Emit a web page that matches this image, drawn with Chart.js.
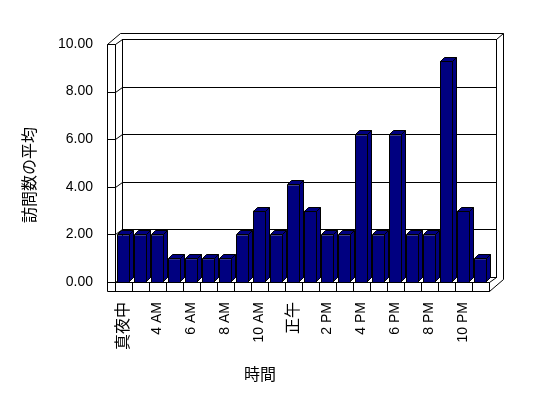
<!DOCTYPE html>
<html>
<head>
<meta charset="utf-8">
<script src="https://cdn.jsdelivr.net/npm/chart.js@4.4.1/dist/chart.umd.min.js"></script>
<style>
  body { margin: 0; background: #ffffff; }
</style>
</head>
<body>
<canvas id="visitsChart" width="548" height="398"></canvas>
<script>
// hours (every other label is shown, like the original)
var hours = ['真夜中', '1 AM', '4 AM', '5 AM', '6 AM', '7 AM', '8 AM', '9 AM', '10 AM', '11 AM', '正午',
    '1 PM', '2 PM', '3 PM', '4 PM', '5 PM', '6 PM', '7 PM', '8 PM', '9 PM', '10 PM', '11 PM'];
var avgVisits = [2, 2, 2, 1, 1, 1, 1, 2, 3, 2, 4.1, 3, 2, 2, 6.2, 2, 6.2, 2, 2, 9.3, 3, 1];
var yTicks = [0, 2, 4, 6, 8, 10];

var xTitle = '時間';
var yTitle = '訪問数の平均';

const barColor = '#000080';

// walls, floor and back gridlines of the 3d box
const box3d = {
    id: 'box3d',
    beforeDatasetsDraw(chart) {
        var ctx = chart.ctx;
        var a = chart.chartArea;
        var y = chart.scales.y;
        var L = a.left, R = a.right, T = a.top, B = a.bottom;
        ctx.save();
        ctx.strokeStyle = '#000';
        ctx.lineWidth = 1;
        ctx.translate(0.5, 0.5);
        function line(x1, y1, x2, y2) {
            ctx.beginPath();
            ctx.moveTo(Math.round(x1), Math.round(y1));
            ctx.lineTo(Math.round(x2), Math.round(y2));
            ctx.stroke();
        }
        // outer outline
        ctx.beginPath();
        ctx.moveTo(L - 8, B + 9);
        ctx.lineTo(L - 8, T);
        ctx.lineTo(L + 5, T - 11);
        ctx.lineTo(R + 14, T - 11);
        ctx.lineTo(R + 14, B - 3);
        ctx.lineTo(R, B + 9);
        ctx.closePath();
        ctx.stroke();
        // back wall
        ctx.strokeRect(L + 7, T - 5, R - L, B - T);
        line(L, T, L + 7, T - 5);
        line(R + 7, T - 5, R + 14, T - 11);
        line(L, B, L + 7, B - 5);
        line(R, B, R + 7, B - 5);
        // left wall front + floor front
        line(L - 8, T, L, T);
        line(L, T, L, B);
        line(L, B, R, B);
        line(R, B, R, B + 9);
        // value gridlines
        yTicks.forEach(function (v) {
            var py = y.getPixelForValue(v);
            line(L - 8, py, L, py);
            if (v > 0 && v < 10) {
                line(L, py, L + 7, py - 5);
                line(L + 7, py - 5, R + 7, py - 5);
            }
        });
        // category separators on the floor front
        var step = (R - L) / hours.length;
        for (var i = 0; i <= hours.length; i++) {
            line(L + i * step, B, L + i * step, B + 9);
        }
        ctx.restore();
    },
    afterDatasetsDraw(chart) {
        // top and side faces of each column
        var ctx = chart.ctx;
        var d = 4;
        ctx.save();
        ctx.fillStyle = barColor;
        ctx.strokeStyle = '#000';
        ctx.lineWidth = 1;
        chart.getDatasetMeta(0).data.forEach(function (bar) {
            var l = Math.round(bar.x - bar.width / 2) + 0.5;
            var r = Math.round(bar.x + bar.width / 2) - 0.5;
            var t = Math.round(bar.y) + 0.5;
            var b = Math.round(bar.base) - 0.5;
            ctx.beginPath();
            ctx.moveTo(r, t);
            ctx.lineTo(r + d, t - d);
            ctx.lineTo(r + d, b - d);
            ctx.lineTo(r, b);
            ctx.closePath();
            ctx.fill();
            ctx.stroke();
            ctx.beginPath();
            ctx.moveTo(l, t);
            ctx.lineTo(l + d, t - d);
            ctx.lineTo(r + d, t - d);
            ctx.lineTo(r, t);
            ctx.closePath();
            ctx.fill();
            ctx.stroke();
        });
        ctx.restore();
    },
    afterDraw(chart) {
        // axis titles
        var ctx = chart.ctx;
        ctx.save();
        ctx.fillStyle = '#000';
        ctx.font = '16px "Noto Sans CJK JP"';
        ctx.textAlign = 'center';
        ctx.textBaseline = 'middle';
        ctx.fillText(xTitle, 260, 374);
        ctx.translate(29, 175);
        ctx.rotate(-Math.PI / 2);
        ctx.fillText(yTitle, 0, 0);
        ctx.restore();
    }
};

Chart.defaults.font.family = '"Liberation Sans", "Noto Sans CJK JP", sans-serif';
Chart.defaults.font.size = 14;
Chart.defaults.color = '#000';

const ctx = document.getElementById('visitsChart').getContext('2d');

new Chart(ctx, {
    type: 'bar',
    data: {
        labels: hours,
        datasets: [{
            label: yTitle,
            data: avgVisits,
            backgroundColor: barColor,
            borderColor: '#000',
            borderWidth: 1,
            barPercentage: 13 / 17,
            categoryPercentage: 1
        }]
    },
    options: {
        responsive: false,
        animation: false,
        devicePixelRatio: 1,
        layout: { padding: { top: 44, right: 59, bottom: 0, left: 0 } },
        plugins: {
            legend: { display: false },
            tooltip: { enabled: false }
        },
        scales: {
            x: {
                grid: { display: false, drawTicks: false },
                border: { display: false },
                afterFit: function (scale) { scale.height = 116; },
                ticks: {
                    autoSkip: false,
                    minRotation: 90,
                    maxRotation: 90,
                    padding: 20,
                    // japanese labels are drawn a bit larger
                    font: function (c) {
                        return { size: /^[0-9]/.test(hours[c.index]) ? 14 : 16 };
                    },
                    callback: function (value, index) {
                        return index % 2 === 0 ? hours[index] : '';
                    }
                }
            },
            y: {
                min: 0,
                max: 10,
                grid: { display: false, drawTicks: false },
                border: { display: false },
                afterFit: function (scale) { scale.width = 115; },
                ticks: {
                    stepSize: 2,
                    padding: 22,
                    callback: function (value) {
                        return value.toFixed(2);
                    }
                }
            }
        }
    },
    plugins: [box3d]
});
</script>
</body>
</html>
